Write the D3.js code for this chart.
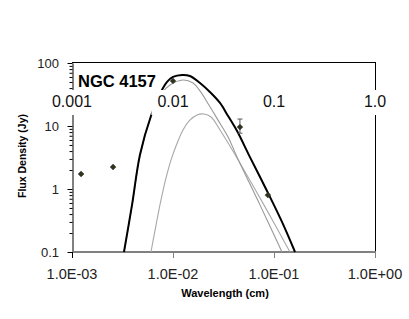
<!DOCTYPE html>
<html>
<head>
<meta charset="utf-8">
<script src="https://cdn.jsdelivr.net/npm/d3@7"></script>
<style>
  body { margin: 0; background: #fff; }
  text { font-family: "Liberation Sans", Arial, sans-serif; }
</style>
</head>
<body>
<svg id="sed"></svg>
<script>
// Model curves: [wavelength (cm), flux density (Jy)]
const totalModel = [
    [0.00327, 0.1], [0.00393, 0.56], [0.00471, 3.5], [0.00605, 14.4], [0.0076, 34.7],
    [0.00873, 50], [0.01, 60], [0.0123, 64.6], [0.0147, 62.2], [0.0185, 48.2],
    [0.0232, 34.7], [0.0292, 23.2], [0.0351, 14.4], [0.0431, 8.3], [0.0578, 3.2],
    [0.0853, 0.93], [0.12, 0.30], [0.1615, 0.1]
];
const warmModel = [
    [0.00327, 0.1], [0.00393, 0.55], [0.00471, 3.4], [0.00605, 14], [0.0076, 32.2],
    [0.00933, 44.8], [0.01256, 53.7], [0.0158, 48.2], [0.0185, 36], [0.0227, 21.5],
    [0.0279, 12.4], [0.0351, 6.7], [0.0431, 3.2], [0.0726, 0.56], [0.12, 0.1]
];
const coldModel = [
    [0.00605, 0.1], [0.00679, 0.268], [0.0076, 0.668], [0.00853, 1.5], [0.00955, 2.88],
    [0.011, 5.37], [0.01256, 8.65], [0.0147, 12.4], [0.0173, 15.0], [0.0203, 15.5],
    [0.0238, 13.9], [0.0292, 8.65], [0.0366, 4.82], [0.046, 2.59], [0.0815, 0.52],
    [0.1439, 0.1]
];

// Observed photometry
const obsWavelength = [0.00123, 0.00255, 0.01, 0.046, 0.087];
const obsFlux = [1.73, 2.23, 52, 9.6, 0.80];
const obsErrLow = [null, null, null, 7.7, null];
const obsErrHigh = [null, null, null, 12.9, null];

// Axes
const xTickValues = [0.001, 0.01, 0.1, 1];
const xTickLabels = ["1.0E-03", "1.0E-02", "1.0E-01", "1.0E+00"];
const topLabels = ["0.001", "0.01", "0.1", "1.0"];
const yTickValues = [0.1, 1, 10, 100];
const yTickLabels = ["0.1", "1", "10", "100"];

const W = 409, H = 319;
const plot = { left: 72, right: 375, top: 63, bottom: 252 };

const svg = d3.select("#sed")
    .attr("width", W)
    .attr("height", H);

svg.append("rect").attr("width", W).attr("height", H).attr("fill", "#fff");

const x = d3.scaleLog().domain([0.001, 1]).range([plot.left, plot.right]);
const y = d3.scaleLog().domain([0.1, 100]).range([plot.bottom, plot.top]);

// Frame: top and right borders
svg.append("line")
    .attr("x1", plot.left).attr("x2", plot.right)
    .attr("y1", plot.top - 0.5).attr("y2", plot.top - 0.5)
    .attr("stroke", "#000");
svg.append("line")
    .attr("x1", plot.right + 0.5).attr("x2", plot.right + 0.5)
    .attr("y1", plot.top - 1).attr("y2", plot.bottom)
    .attr("stroke", "#000");

// Left axis with log minor ticks
const yAll = y.ticks();
const yAxis = svg.append("g")
    .attr("transform", `translate(${plot.left + 0.5},0)`)
    .call(d3.axisLeft(y).tickValues(yAll).tickSizeOuter(0).tickFormat(""));
yAxis.select(".domain").attr("stroke", "#000");
yAxis.selectAll(".tick line")
    .attr("stroke", "#000")
    .attr("x2", d => yTickValues.includes(d) ? -5 : -3);

yTickValues.forEach((v, i) => {
    svg.append("text")
        .attr("x", plot.left - 13)
        .attr("y", y(v) + 4.5)
        .attr("text-anchor", "end")
        .attr("font-size", 13)
        .attr("fill", "#222")
        .text(yTickLabels[i]);
});

// Bottom axis (gray)
svg.append("line")
    .attr("x1", plot.left).attr("x2", plot.right + 1)
    .attr("y1", plot.bottom).attr("y2", plot.bottom)
    .attr("stroke", "#808080").attr("stroke-width", 2);
xTickValues.forEach((v, i) => {
    svg.append("line")
        .attr("x1", x(v) + 0.5).attr("x2", x(v) + 0.5)
        .attr("y1", plot.bottom).attr("y2", plot.bottom + 6)
        .attr("stroke", i === 0 ? "#000" : "#808080");
    svg.append("text")
        .attr("x", x(v))
        .attr("y", 279)
        .attr("text-anchor", "middle")
        .attr("font-size", 14.5)
        .attr("fill", "#222")
        .text(xTickLabels[i]);
});

// Axis titles
svg.append("text")
    .attr("transform", `translate(26,156) rotate(-90)`)
    .attr("text-anchor", "middle")
    .attr("font-size", 10.5)
    .attr("font-weight", "bold")
    .text("Flux Density (Jy)");
svg.append("text")
    .attr("x", 225).attr("y", 297)
    .attr("text-anchor", "middle")
    .attr("font-size", 11)
    .attr("font-weight", "bold")
    .text("Wavelength (cm)");

// Model curves
const line = d3.line()
    .x(d => x(d[0]))
    .y(d => y(d[1]))
    .curve(d3.curveCatmullRom.alpha(0.5));

svg.append("path").datum(coldModel)
    .attr("d", line).attr("fill", "none")
    .attr("stroke", "#a8a8a8").attr("stroke-width", 1.1);
svg.append("path").datum(warmModel)
    .attr("d", line).attr("fill", "none")
    .attr("stroke", "#999").attr("stroke-width", 1.1);
svg.append("path").datum(totalModel)
    .attr("d", line).attr("fill", "none")
    .attr("stroke", "#000").attr("stroke-width", 2);

// Observed points with error bars
obsWavelength.forEach((wl, i) => {
    if (obsErrLow[i] !== null) {
        const cx = x(wl);
        svg.append("line")
            .attr("x1", cx).attr("x2", cx)
            .attr("y1", y(obsErrHigh[i])).attr("y2", y(obsErrLow[i]))
            .attr("stroke", "#556");
        [obsErrHigh[i], obsErrLow[i]].forEach(v => {
            svg.append("line")
                .attr("x1", cx - 2.5).attr("x2", cx + 2.5)
                .attr("y1", y(v)).attr("y2", y(v))
                .attr("stroke", "#556");
        });
    }
});
svg.selectAll(".obs")
    .data(obsWavelength.map((wl, i) => [wl, obsFlux[i]]))
    .enter().append("path")
    .attr("class", "obs")
    .attr("transform", d => `translate(${x(d[0])},${y(d[1])})`)
    .attr("d", d3.symbol(d3.symbolDiamond2, 22))
    .attr("fill", "#333318")
    .attr("stroke", "#334")
    .attr("stroke-width", 0.5);

// Secondary wavelength labels on white boxes
topLabels.forEach((t, i) => {
    const g = svg.append("g");
    const txt = g.append("text")
        .attr("x", x(xTickValues[i]))
        .attr("y", 107)
        .attr("text-anchor", "middle")
        .attr("font-size", 16)
        .attr("fill", "#111")
        .text(t);
    const bb = txt.node().getBBox();
    g.insert("rect", "text")
        .attr("x", bb.x - 6).attr("y", 90)
        .attr("width", bb.width + 12).attr("height", 25)
        .attr("fill", "#fff");
});

// Galaxy name
svg.append("text")
    .attr("x", 78).attr("y", 87)
    .attr("font-size", 16.5)
    .attr("font-weight", "bold")
    .text("NGC 4157");
</script>
</body>
</html>
